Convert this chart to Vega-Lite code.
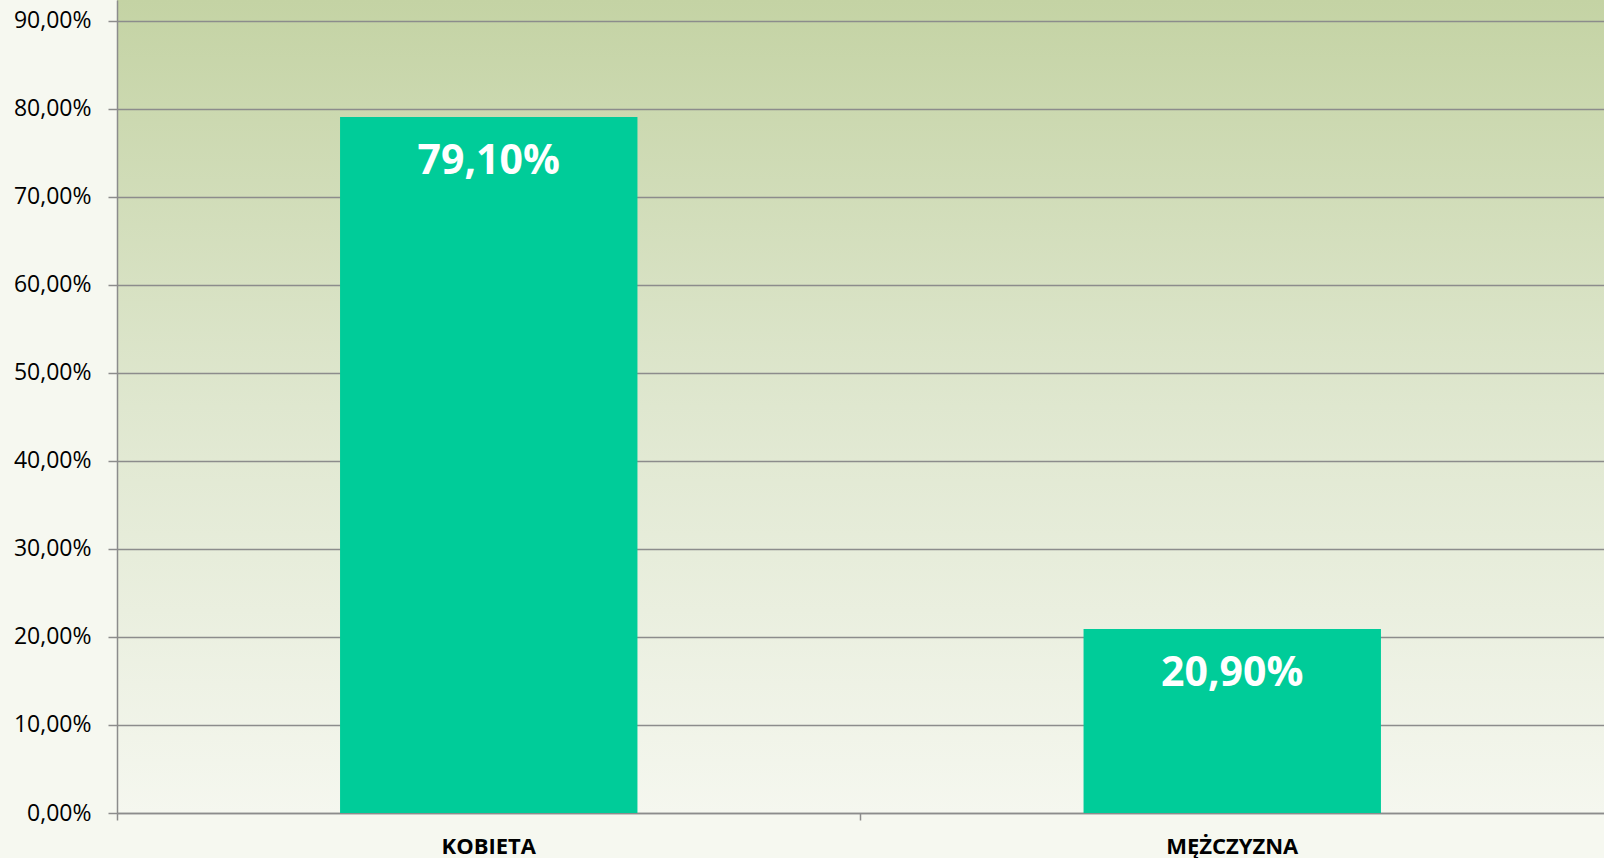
{
  "$schema": "https://vega.github.io/schema/vega-lite/v6.json",
  "autosize": "none",
  "padding": {"left": 117, "top": 0, "right": 0, "bottom": 45},
  "width": 1487,
  "height": 813,
  "background": "#f6f8f0",
  "config": {
    "locale": {"number": {"decimal": ",", "thousands": " ", "grouping": [3], "currency": ["", " zł"]}},
    "view": {
      "stroke": null,
      "fill": {"gradient": "linear", "x1": 0, "y1": 0, "x2": 0, "y2": 1,
        "stops": [{"offset": 0, "color": "#c4d3a4"}, {"offset": 0.5, "color": "#dfe7cf"}, {"offset": 1, "color": "#f5f7ef"}]}
    },
    "font": "Open Sans"
  },
  "data": {"values": [
    {"plec": "KOBIETA", "value": 0.791},
    {"plec": "MĘŻCZYZNA", "value": 0.209}
  ]},
  "encoding": {
    "x": {
      "field": "plec", "type": "nominal", "sort": null,
      "scale": {"paddingInner": 0.6, "paddingOuter": 0.3},
      "axis": {
        "title": null, "labelAngle": 0, "labelFont": "Open Sans", "labelFontWeight": "bold",
        "labelFontSize": 22, "labelColor": "#000000", "labelPadding": 16,
        "bandPosition": -0.75, "tickExtra": false, "tickSize": 7, "tickColor": "#8c8c8c", "tickWidth": 1.5,
        "domainColor": "#8c8c8c", "domainWidth": 1.5, "grid": false
      }
    },
    "y": {
      "field": "value", "type": "quantitative",
      "scale": {"domain": [0, 0.92386], "nice": false},
      "axis": {
        "title": null, "values": [0, 0.1, 0.2, 0.3, 0.4, 0.5, 0.6, 0.7, 0.8, 0.9],
        "format": ".2%", "labelFont": "Open Sans", "labelFontSize": 23, "labelColor": "#000000",
        "labelPadding": 17, "tickSize": 9, "tickColor": "#8c8c8c", "tickWidth": 1.5,
        "domainColor": "#8c8c8c", "domainWidth": 1.5,
        "grid": true, "gridColor": "#8c8c8c", "gridWidth": 1.5
      }
    }
  },
  "layer": [
    {"mark": {"type": "bar", "color": "#00cc99"}},
    {"mark": {"type": "text", "color": "#ffffff", "fontSize": 41, "fontWeight": "bold", "font": "Open Sans", "baseline": "middle", "dy": 45},
     "encoding": {"text": {"field": "value", "type": "quantitative", "format": ".2%"}}}
  ]
}
